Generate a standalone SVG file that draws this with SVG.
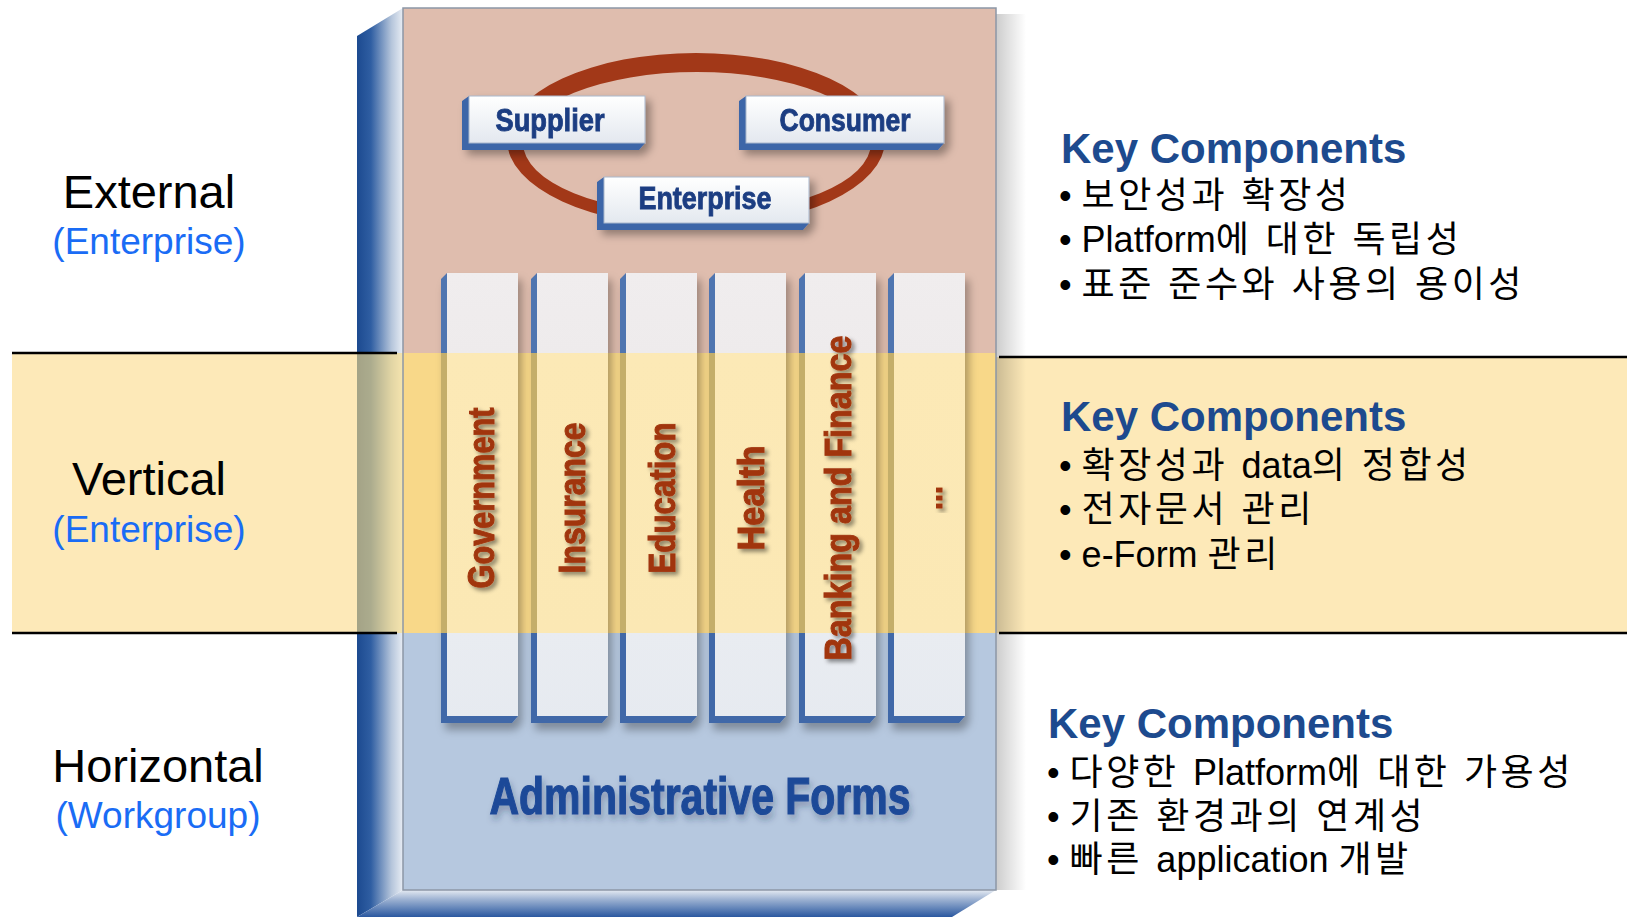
<svg xmlns="http://www.w3.org/2000/svg" width="1627" height="917" viewBox="0 0 1627 917">
<style>
.lbl{font-family:"Liberation Sans",Arial,sans-serif;font-size:47px;fill:#000;text-anchor:middle}
.sub{font-family:"Liberation Sans",Arial,sans-serif;font-size:37px;fill:#1A6CF5;text-anchor:middle}
.key{font-family:"Liberation Sans",Arial,sans-serif;font-size:42px;font-weight:bold;fill:#1D4A8E}
.bul{font-family:"Liberation Sans","Noto Sans CJK KR",sans-serif;font-size:36px;fill:#000;letter-spacing:3.5px}
.lat{letter-spacing:0}
.box{font-family:"Liberation Sans",Arial,sans-serif;font-size:31px;font-weight:bold;fill:#1C3E82;stroke:#1C3E82;stroke-width:0.9;text-anchor:middle}
.col{font-family:"Liberation Sans",Arial,sans-serif;font-size:37px;font-weight:bold;fill:#A1360E;stroke:#A1360E;stroke-width:1;text-anchor:middle}
.adm{font-family:"Liberation Sans",Arial,sans-serif;font-size:51px;font-weight:bold;fill:#1E4A98;stroke:#1E4A98;stroke-width:1.2;text-anchor:middle}
.sep{stroke:#000;stroke-width:2.5}
.boxEdge{fill:#3D66A8}
.boxFace{fill:url(#boxFaceGrad);stroke:#A9B7CC;stroke-width:1}
</style>
<defs>
<linearGradient id="sideGrad" x1="0" y1="0" x2="1" y2="0">
<stop offset="0" stop-color="#1C4A90"/>
<stop offset="0.3" stop-color="#2F5EA2"/>
<stop offset="0.75" stop-color="#B5C5DB"/>
<stop offset="1" stop-color="#E8EDF4"/>
</linearGradient>
<linearGradient id="bottomGrad" x1="0" y1="0" x2="0" y2="1">
<stop offset="0" stop-color="#E4EAF2"/>
<stop offset="0.35" stop-color="#9DB2D2"/>
<stop offset="1" stop-color="#2A58A0"/>
</linearGradient>
<linearGradient id="rshadow" x1="0" y1="0" x2="1" y2="0">
<stop offset="0" stop-color="#000" stop-opacity="0.2"/>
<stop offset="1" stop-color="#000" stop-opacity="0"/>
</linearGradient>
<linearGradient id="boxFaceGrad" x1="0" y1="0" x2="0" y2="1">
<stop offset="0" stop-color="#FFFFFF"/>
<stop offset="1" stop-color="#E3E8EF"/>
</linearGradient>
<linearGradient id="colFaceGrad" gradientUnits="userSpaceOnUse" x1="0" y1="273" x2="0" y2="723">
<stop offset="0" stop-color="#F0EDEE"/>
<stop offset="0.1778" stop-color="#EEEBEC"/>
<stop offset="0.1778" stop-color="#FCE9B6"/>
<stop offset="0.8" stop-color="#FBE8B4"/>
<stop offset="0.8" stop-color="#E9ECF1"/>
<stop offset="1" stop-color="#E6EAF0"/>
</linearGradient>
<linearGradient id="colEdgeGrad" gradientUnits="userSpaceOnUse" x1="0" y1="273" x2="0" y2="723">
<stop offset="0" stop-color="#5074B0"/>
<stop offset="0.1778" stop-color="#5074B0"/>
<stop offset="0.1778" stop-color="#C4AE6A"/>
<stop offset="0.8" stop-color="#C4AE6A"/>
<stop offset="0.8" stop-color="#3F67A8"/>
<stop offset="1" stop-color="#3F67A8"/>
</linearGradient>
<filter id="ds" x="-20%" y="-20%" width="150%" height="160%">
<feDropShadow dx="5" dy="5" stdDeviation="4" flood-color="#000" flood-opacity="0.35"/>
</filter>
<filter id="colds" x="-20%" y="-5%" width="150%" height="115%">
<feDropShadow dx="4" dy="7" stdDeviation="4" flood-color="#000" flood-opacity="0.3"/>
</filter>
<filter id="tsh" x="-10%" y="-30%" width="120%" height="160%">
<feDropShadow dx="-3" dy="3" stdDeviation="2" flood-color="#000" flood-opacity="0.45"/>
</filter>
<filter id="ash" x="-5%" y="-20%" width="110%" height="160%">
<feDropShadow dx="2" dy="5" stdDeviation="3" flood-color="#203050" flood-opacity="0.3"/>
</filter>
<g id="column">
<path d="M0,279 L6,273 L6,716 L77,716 L71,723 L0,723 Z" fill="url(#colEdgeGrad)"/>
<rect x="6" y="273" width="71" height="443" fill="url(#colFaceGrad)"/>
</g>
</defs>

<rect x="0" y="0" width="1627" height="917" fill="#FFFFFF"/>

<g id="bands">
<rect x="12" y="353" width="360" height="280" fill="#FDE9B8"/>
<rect x="996" y="357" width="631" height="276" fill="#FDE9B8"/>
</g>

<g id="panel">
<rect x="996" y="14" width="30" height="876" fill="url(#rshadow)"/>
<path d="M357,36 L403,8 L403,890 L357,917 Z" fill="url(#sideGrad)"/>
<rect x="357" y="353" width="46" height="280" fill="#FFE080" opacity="0.6"/>
<path d="M357,917 L403,890 L996,890 L952,917 Z" fill="url(#bottomGrad)"/>
<rect x="403" y="8" width="593" height="345" fill="#DFBDAE"/>
<rect x="403" y="353" width="593" height="280" fill="#F8D889"/>
<rect x="403" y="633" width="593" height="257" fill="#B6C8DF"/>
<rect x="403" y="8" width="593" height="882" fill="none" stroke="#8C97A6" stroke-width="1.5"/>
</g>

<g id="connectors">
<path d="M507,140 A189,87 0 1,0 885,140 A189,87 0 1,0 507,140 Z M523,143 A174,71 0 1,0 871,143 A174,71 0 1,0 523,143 Z" fill="#A23818" fill-rule="evenodd"/>
</g>

<g id="supplier" filter="url(#ds)">
<path class="boxEdge" d="M462,101 L469,96 L469,143 L645,143 L639,150 L462,150 Z"/>
<rect class="boxFace" x="469" y="96" width="176" height="47"/>
<text class="box" x="550" y="131" textLength="109" lengthAdjust="spacingAndGlyphs">Supplier</text>
</g>
<g id="consumer" filter="url(#ds)">
<path class="boxEdge" d="M739,101 L746,96 L746,143 L944,143 L938,150 L739,150 Z"/>
<rect class="boxFace" x="746" y="96" width="198" height="47"/>
<text class="box" x="845" y="131" textLength="131" lengthAdjust="spacingAndGlyphs">Consumer</text>
</g>
<g id="enterprise" filter="url(#ds)">
<path class="boxEdge" d="M597,182 L604,177 L604,223 L809,223 L803,230 L597,230 Z"/>
<rect class="boxFace" x="604" y="177" width="205" height="46"/>
<text class="box" x="705" y="209" textLength="133" lengthAdjust="spacingAndGlyphs">Enterprise</text>
</g>

<g id="col-government">
<use href="#column" x="441" filter="url(#colds)"/>
<text class="col" filter="url(#tsh)" transform="translate(494,498) rotate(-90)" textLength="181" lengthAdjust="spacingAndGlyphs">Government</text>
</g>
<g id="col-insurance">
<use href="#column" x="531" filter="url(#colds)"/>
<text class="col" filter="url(#tsh)" transform="translate(585,498) rotate(-90)" textLength="151" lengthAdjust="spacingAndGlyphs">Insurance</text>
</g>
<g id="col-education">
<use href="#column" x="620" filter="url(#colds)"/>
<text class="col" filter="url(#tsh)" transform="translate(675,498) rotate(-90)" textLength="151" lengthAdjust="spacingAndGlyphs">Education</text>
</g>
<g id="col-health">
<use href="#column" x="709" filter="url(#colds)"/>
<text class="col" filter="url(#tsh)" transform="translate(764,498) rotate(-90)" textLength="105" lengthAdjust="spacingAndGlyphs">Health</text>
</g>
<g id="col-banking">
<use href="#column" x="799" filter="url(#colds)"/>
<text class="col" filter="url(#tsh)" transform="translate(851,498) rotate(-90)" textLength="325" lengthAdjust="spacingAndGlyphs">Banking and Finance</text>
</g>
<g id="col-more">
<use href="#column" x="888" filter="url(#colds)"/>
<text class="col" filter="url(#tsh)" transform="translate(942,498) rotate(-90)" textLength="24" lengthAdjust="spacingAndGlyphs">...</text>
</g>

<g id="admin-forms">
<text class="adm" filter="url(#ash)" x="700" y="814" textLength="421" lengthAdjust="spacingAndGlyphs">Administrative Forms</text>
</g>

<g id="separators">
<line class="sep" x1="12" y1="353" x2="397" y2="353"/>
<line class="sep" x1="12" y1="633" x2="397" y2="633"/>
<line class="sep" x1="999" y1="357" x2="1627" y2="357"/>
<line class="sep" x1="999" y1="633" x2="1627" y2="633"/>
</g>

<g id="label-external">
<text class="lbl" x="149" y="208">External</text>
<text class="sub" x="149" y="254">(Enterprise)</text>
</g>
<g id="label-vertical">
<text class="lbl" x="149" y="495">Vertical</text>
<text class="sub" x="149" y="542">(Enterprise)</text>
</g>
<g id="label-horizontal">
<text class="lbl" x="158" y="782">Horizontal</text>
<text class="sub" x="158" y="828">(Workgroup)</text>
</g>

<g id="key-external">
<text class="key" x="1061" y="163">Key Components</text>
<text class="bul" x="1059" y="208"><tspan class="lat">• </tspan>보안성과 확장성</text>
<text class="bul" x="1059" y="252"><tspan class="lat">• Platform</tspan>에 대한 독립성</text>
<text class="bul" x="1059" y="297"><tspan class="lat">• </tspan>표준 준수와 사용의 용이성</text>
</g>
<g id="key-vertical">
<text class="key" x="1061" y="431">Key Components</text>
<text class="bul" x="1059" y="478"><tspan class="lat">• </tspan>확장성과 <tspan class="lat">data</tspan>의 정합성</text>
<text class="bul" x="1059" y="522"><tspan class="lat">• </tspan>전자문서 관리</text>
<text class="bul" x="1059" y="567"><tspan class="lat">• e-Form </tspan>관리</text>
</g>
<g id="key-horizontal">
<text class="key" x="1048" y="738">Key Components</text>
<text class="bul" x="1047" y="785"><tspan class="lat">• </tspan>다양한 <tspan class="lat">Platform</tspan>에 대한 가용성</text>
<text class="bul" x="1047" y="829"><tspan class="lat">• </tspan>기존 환경과의 연계성</text>
<text class="bul" x="1047" y="872"><tspan class="lat">• </tspan>빠른 <tspan class="lat">application </tspan>개발</text>
</g>
</svg>
